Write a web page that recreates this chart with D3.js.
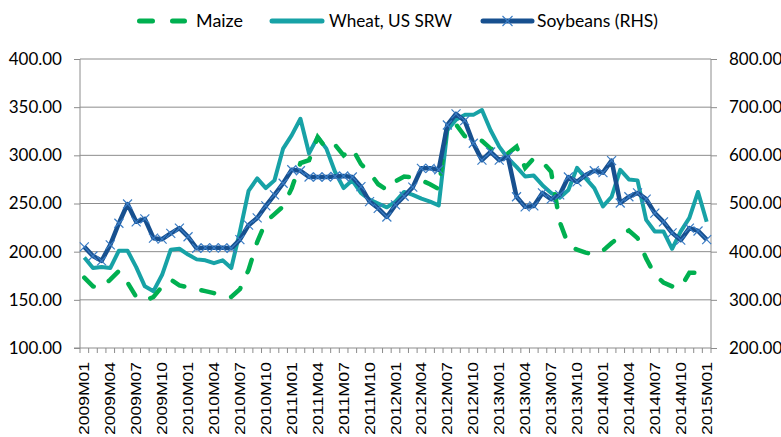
<!DOCTYPE html>
<html>
<head>
<meta charset="utf-8">
<script src="https://cdn.jsdelivr.net/npm/d3@7"></script>
<style>
  body { margin: 0; background: #fff; }
  svg { display: block; }
</style>
</head>
<body>
<svg id="chart" width="781" height="437"></svg>
<script>
// monthly categories 2009M01 .. 2015M01
let months = [
  "2009M01","2009M02","2009M03","2009M04","2009M05","2009M06","2009M07","2009M08","2009M09","2009M10","2009M11","2009M12",
  "2010M01","2010M02","2010M03","2010M04","2010M05","2010M06","2010M07","2010M08","2010M09","2010M10","2010M11","2010M12",
  "2011M01","2011M02","2011M03","2011M04","2011M05","2011M06","2011M07","2011M08","2011M09","2011M10","2011M11","2011M12",
  "2012M01","2012M02","2012M03","2012M04","2012M05","2012M06","2012M07","2012M08","2012M09","2012M10","2012M11","2012M12",
  "2013M01","2013M02","2013M03","2013M04","2013M05","2013M06","2013M07","2013M08","2013M09","2013M10","2013M11","2013M12",
  "2014M01","2014M02","2014M03","2014M04","2014M05","2014M06","2014M07","2014M08","2014M09","2014M10","2014M11","2014M12",
  "2015M01"
];

let maize = [
  173,164,163,171,180,168,153,149,153,164,171,165,
  163,161,159,157,154,153,161,181,210,231,239,247,
  266,292,295,319,307,311,300,307,291,282,270,264,
  273,278,277,274,270,265,333,332,320,317,315,307,
  303,302,309,287,297,293,283,231,207,202,199,197,
  201,209,216,222,214,193,176,168,164,163,178,178,
  175
];

let wheat = [
  194,183,184,183,201,201,184,164,159,176,202,203,
  197,192,191,188,191,183,221,263,276,266,274,307,
  321,338,302,319,307,283,266,274,261,254,250,246,
  252,262,259,255,252,248,326,337,342,342,347,326,
  309,297,288,278,279,269,261,256,264,287,276,266,
  247,257,285,275,274,233,221,221,203,221,235,262,
  231
];

// soybeans on the right-hand axis
let soybeans = [
  410,391,381,414,459,499,462,468,428,426,438,449,
  431,407,408,408,408,407,425,455,470,495,518,542,
  570,568,555,555,555,556,557,555,535,504,490,472,
  497,515,534,573,573,570,663,686,672,625,590,607,
  590,597,514,493,495,522,509,518,555,545,559,568,
  564,589,501,514,522,509,480,462,439,424,449,443,
  425
];

let leftTicks = [100, 150, 200, 250, 300, 350, 400];
let rightTicks = [200, 300, 400, 500, 600, 700, 800];

let colors = { maize: "#00B050", wheat: "#17A2A6", soy: "#17508F", soyMark: "#3A7CC4" };
let font = "Lato, 'Open Sans', sans-serif";

let svg = d3.select("#chart");
let margin = { top: 59, bottom: 89, left: 80, right: 70 };
let width = +svg.attr("width");
let height = +svg.attr("height");

let x = d3.scaleBand()
  .domain(months)
  .range([margin.left, width - margin.right])
  .padding(0);
let cx = d => x(d) + x.bandwidth() / 2;

let yL = d3.scaleLinear().domain([100, 400]).range([height - margin.bottom, margin.top]);
let yR = d3.scaleLinear().domain([200, 800]).range([height - margin.bottom, margin.top]);

// gridlines
svg.append("g")
  .selectAll("line")
  .data(leftTicks.slice(1))
  .join("line")
  .attr("x1", margin.left).attr("x2", width - margin.right)
  .attr("y1", d => yL(d)).attr("y2", d => yL(d))
  .attr("stroke", "#8c8c8c").attr("stroke-width", 1);

// left + right axes
let gyL = svg.append("g")
  .attr("transform", `translate(${margin.left},0)`)
  .call(d3.axisLeft(yL).tickValues(leftTicks).tickFormat(d3.format(".2f")).tickSize(6).tickPadding(12));
let gyR = svg.append("g")
  .attr("transform", `translate(${width - margin.right},0)`)
  .call(d3.axisRight(yR).tickValues(rightTicks).tickFormat(d3.format(".2f")).tickSize(6).tickPadding(12));

[gyL, gyR].forEach(g => {
  g.select(".domain")
    .attr("stroke", "#8c8c8c")
    .attr("d", `M0,${margin.top}V${height - margin.bottom}`);
  g.selectAll(".tick line").attr("stroke", "#8c8c8c");
  g.selectAll(".tick text")
    .attr("fill", "#000")
    .style("font-family", font)
    .style("font-size", "17px");
});

// bottom axis, ticks on category boundaries
let xBase = height - margin.bottom;
let gx = svg.append("g");
gx.append("line")
  .attr("x1", margin.left - 6).attr("x2", width - margin.right)
  .attr("y1", xBase).attr("y2", xBase)
  .attr("stroke", "#8c8c8c");
gx.selectAll("line.tk")
  .data(months.concat(["end"]))
  .join("line")
  .attr("class", "tk")
  .attr("x1", (d, i) => i < months.length ? x(d) : x.range()[1])
  .attr("x2", (d, i) => i < months.length ? x(d) : x.range()[1])
  .attr("y1", xBase).attr("y2", xBase + 5)
  .attr("stroke", "#8c8c8c");
gx.selectAll("text")
  .data(months.filter((d, i) => i % 3 === 0))
  .join("text")
  .attr("transform", d => `translate(${cx(d) + 5},${xBase + 14}) rotate(-90)`)
  .attr("text-anchor", "end")
  .attr("textLength", 73)
  .attr("lengthAdjust", "spacingAndGlyphs")
  .style("font-family", "'Liberation Sans', Arial, sans-serif")
  .style("font-size", "14px")
  .text(d => d);

// series
let lineL = d3.line().x((d, i) => cx(months[i])).y(d => yL(d));
let lineR = d3.line().x((d, i) => cx(months[i])).y(d => yR(d));

svg.append("path")
  .datum(wheat)
  .attr("d", lineL)
  .attr("fill", "none")
  .attr("stroke", colors.wheat)
  .attr("stroke-width", 4)
  .attr("stroke-linejoin", "round");

svg.append("path")
  .datum(maize)
  .attr("d", lineL)
  .attr("fill", "none")
  .attr("stroke", colors.maize)
  .attr("stroke-width", 4.5)
  .attr("stroke-linecap", "round")
  .attr("stroke-dasharray", "13,17.5");

svg.append("path")
  .datum(soybeans)
  .attr("d", lineR)
  .attr("fill", "none")
  .attr("stroke", colors.soy)
  .attr("stroke-width", 4.5)
  .attr("stroke-linejoin", "round");

let xMark = (sel, s) => sel.append("path")
  .attr("d", `M${-s},${-s}L${s},${s}M${-s},${s}L${s},${-s}`)
  .attr("stroke", colors.soyMark)
  .attr("stroke-width", 1.2)
  .attr("fill", "none");

svg.append("g")
  .selectAll("g")
  .data(soybeans)
  .join("g")
  .attr("transform", (d, i) => `translate(${cx(months[i])},${yR(d)})`)
  .each(function() { xMark(d3.select(this), 4.5); });

// legend
let legend = svg.append("g").style("font-family", font).style("font-size", "17.5px");
let ly = 21;
legend.append("line")
  .attr("x1", 139.5).attr("x2", 184.5).attr("y1", ly).attr("y2", ly)
  .attr("stroke", colors.maize).attr("stroke-width", 5)
  .attr("stroke-linecap", "round").attr("stroke-dasharray", "13,20");
legend.append("text").attr("x", 196).attr("y", ly + 6)
  .attr("textLength", 47).attr("lengthAdjust", "spacingAndGlyphs").text("Maize");

legend.append("line")
  .attr("x1", 272).attr("x2", 322).attr("y1", ly).attr("y2", ly)
  .attr("stroke", colors.wheat).attr("stroke-width", 5).attr("stroke-linecap", "round");
legend.append("text").attr("x", 329).attr("y", ly + 6)
  .attr("textLength", 123).attr("lengthAdjust", "spacingAndGlyphs").text("Wheat, US SRW");

legend.append("line")
  .attr("x1", 483).attr("x2", 532).attr("y1", ly).attr("y2", ly)
  .attr("stroke", colors.soy).attr("stroke-width", 5).attr("stroke-linecap", "round");
legend.append("g").attr("transform", `translate(507.5,${ly})`).call(g => xMark(g, 5));
legend.append("text").attr("x", 537).attr("y", ly + 6)
  .attr("textLength", 121).attr("lengthAdjust", "spacingAndGlyphs").text("Soybeans (RHS)");
</script>
</body>
</html>
